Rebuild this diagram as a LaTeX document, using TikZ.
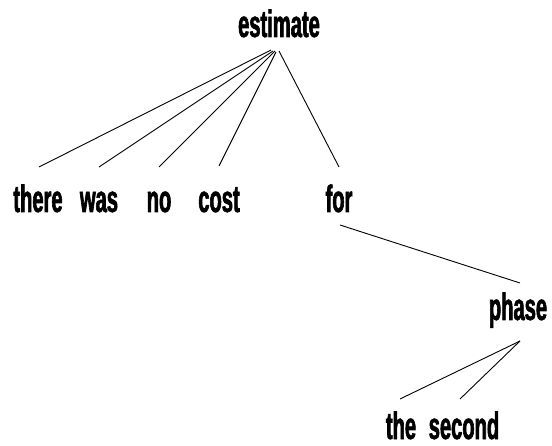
\documentclass[tikz,border=0pt]{standalone}
\usepackage{fontspec}
\setmainfont{Liberation Sans}[FakeStretch=0.53,BoldFeatures={FakeBold=1.6}]
\usetikzlibrary{calc}
\begin{document}
\begin{tikzpicture}[x=1pt,y=-1pt,
  lbl/.style={anchor=base,inner sep=0pt,font=\bfseries\fontsize{38}{38}\selectfont},
  edge/.style={draw=black,line width=0.9pt}]
\useasboundingbox (0,0) rectangle (552,446);
\node[lbl] (estimate) at (279,37) {estimate};
\node[lbl] (there) at (38,212) {there};
\node[lbl] (was) at (99,212) {was};
\node[lbl] (no) at (159,212) {no};
\node[lbl] (cost) at (219,212) {cost};
\node[lbl] (for) at (339,212) {for};
\node[lbl] (phase) at (518,320) {phase};
\node[lbl] (the) at (401,439) {the};
\node[lbl] (second) at (464,439) {second};
\draw[edge] ($(estimate.base)+(-8,13)$) -- ($(there.base)+(1,-45)$);
\draw[edge] ($(estimate.base)+(-6,14)$) -- ($(was.base)+(0,-45)$);
\draw[edge] ($(estimate.base)+(-4,14)$) -- ($(no.base)+(0,-45)$);
\draw[edge] ($(estimate.base)+(-3,15)$) -- ($(cost.base)+(0,-46)$);
\draw[edge] ($(estimate.base)+(0,14)$) -- ($(for.base)+(0,-45)$);
\draw[edge] ($(for.base)+(1,13)$) -- ($(phase.base)+(2,-37)$);
\draw[edge] ($(phase.base)+(2,21)$) -- ($(the.base)+(-1,-40)$);
\draw[edge] ($(phase.base)+(2,21)$) -- ($(second.base)+(-4,-40)$);
\end{tikzpicture}
\end{document}
